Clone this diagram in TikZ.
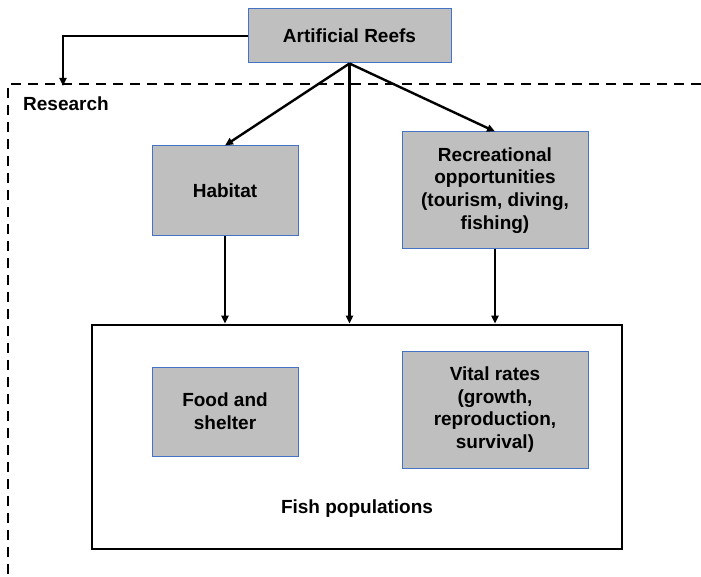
\documentclass[tikz,border=0pt]{standalone}
\usepackage{fontspec}
\setmainfont{Liberation Sans}
\usetikzlibrary{arrows.meta}
\pgfdeclarelayer{bg}
\pgfsetlayers{bg,main}
\definecolor{boxgray}{RGB}{191,191,191}
\definecolor{boxblue}{RGB}{68,114,196}

\begin{document}
\begin{tikzpicture}[x=1pt, y=-1pt,
        every node/.style={font=\fontsize{19}{22.8}\selectfont\bfseries, align=center, inner sep=0pt},
        graybox/.style={draw=boxblue, line width=1pt, fill=boxgray},
        fishbox/.style={draw=black, line width=2.8pt, fill=white},
        link/.style={line width=2.4pt, -{Triangle[length=8pt,width=7pt]}},
        researchline/.style={line width=2.8pt, dash pattern=on 10pt off 7pt}]
        \useasboundingbox (0,0) rectangle (701,577);
        \node (fish) [fishbox, minimum width=530pt, minimum height=224pt] at (357, 437) {};
        \node (reefs) [graybox, minimum width=203pt, minimum height=54pt] at (349.5, 36) {Artificial Reefs};
        \node (habitat) [graybox, minimum width=146pt, minimum height=90pt] at (225, 191) {Habitat};
        \node (recreation) [graybox, minimum width=186pt, minimum height=117pt] at (495, 190.5) {Recreational\\opportunities\\(tourism, diving,\\fishing)};
        \node (food) [graybox, minimum width=146pt, minimum height=89pt] at (225, 411.5) {Food and\\shelter};
        \node (vital) [graybox, minimum width=186pt, minimum height=117pt] at (495, 409.5) {Vital rates\\(growth,\\reproduction,\\survival)};
        \node (fishlabel) at (357, 509) {Fish populations};
        \node (research) [anchor=west] at (23, 104) {Research};
        \coordinate (rtop) at (63, 84);
        \begin{pgfonlayer}{bg}
                \draw [researchline] (701, 84) -- (8, 84) -- (8, 577);
        \end{pgfonlayer}
        \draw [link] (reefs.west) -| ([yshift=-2pt]rtop);
        \draw [link] (reefs.south) -- (habitat.north);
        \draw [link] (reefs.south) -- (reefs.south |- fish.north);
        \draw [link] (reefs.south) -- (recreation.north);
        \draw [link] (habitat.south) -- (habitat.south |- fish.north);
        \draw [link] (recreation.south) -- (recreation.south |- fish.north);
\end{tikzpicture}
\end{document}
